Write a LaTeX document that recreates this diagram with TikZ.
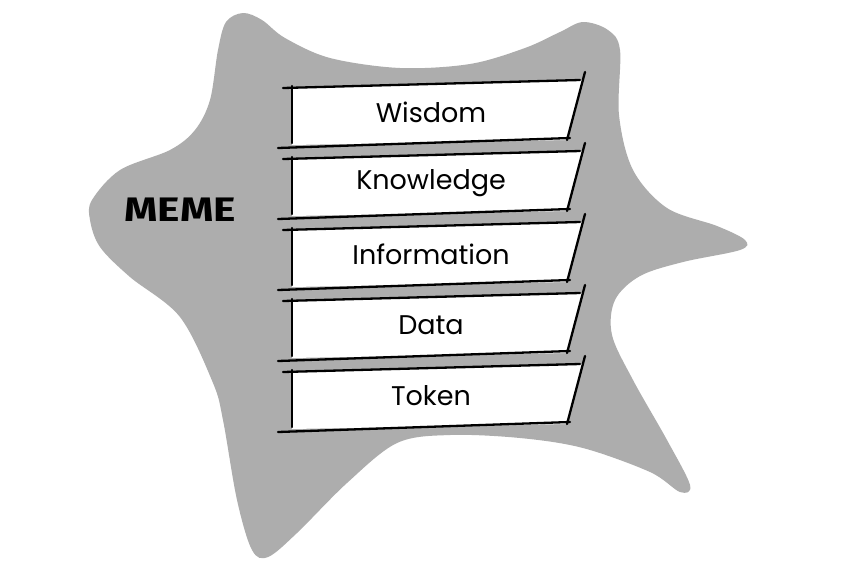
\documentclass[tikz,border=0pt]{standalone}
\usepackage{fontspec}
\setmainfont{Poppins}
\newfontfamily\memefont{Fira Sans}
\usepackage{tikz}
\definecolor{blobgray}{HTML}{ADADAD}

\begin{document}
\begin{tikzpicture}[
  x=1pt, y=-1pt,
  sketch/.style={line width=2.3pt, line cap=round, black},
  layer/.style={font=\fontsize{27}{32}\selectfont, inner sep=0pt},
]
  \useasboundingbox[fill=white] (0,0) rectangle (856,571);

  % Blob
  \fill[blobgray] plot[smooth cycle, tension=0.55] coordinates {
    (226,22) (243,13) (262,20) (285,38) (330,58) (400,68) (470,64) (525,48)
    (560,32) (583,22) (608,30) (620,50) (619,115) (633,170) (667,208)
    (717,226) (745,240) (740,250) (683,262) (640,276) (615,300) (612,335)
    (633,380) (667,440) (690,485) (680,492) (650,472) (583,448) (520,438)
    (450,435) (397,443) (347,483) (297,533) (268,557) (252,550) (237,500)
    (223,420) (213,383) (180,317) (130,277) (100,247) (90,220) (92,200)
    (120,170) (170,150) (195,130) (210,100) (218,50)};

  % Label
  \node[font=\memefont\bfseries\fontsize{34}{40}\selectfont, inner sep=0pt, xscale=1.25] (meme) at (180,210) {MEME};

  % Layers
  \foreach \lbl/\nm [count=\i] in {Wisdom/wisdom, Knowledge/knowledge, Information/information, Data/data, Token/token} {
    \pgfmathsetmacro{\t}{88+71*(\i-1)}
    \fill[white] (292,\t) -- (582,\t-8) -- (567,\t+52) -- (292,\t+57) -- cycle;
    \draw[sketch] (283,\t) -- (580,\t-8);
    \draw[sketch] (292,\t-2) -- (292,\t+55);
    \draw[sketch] (278,\t+60) -- (570,\t+50);
    \draw[sketch] (585,\t-16) -- (567,\t+52);
    \node[layer] (\nm) at (431,\t+24) {\lbl};
  }

\end{tikzpicture}
\end{document}
